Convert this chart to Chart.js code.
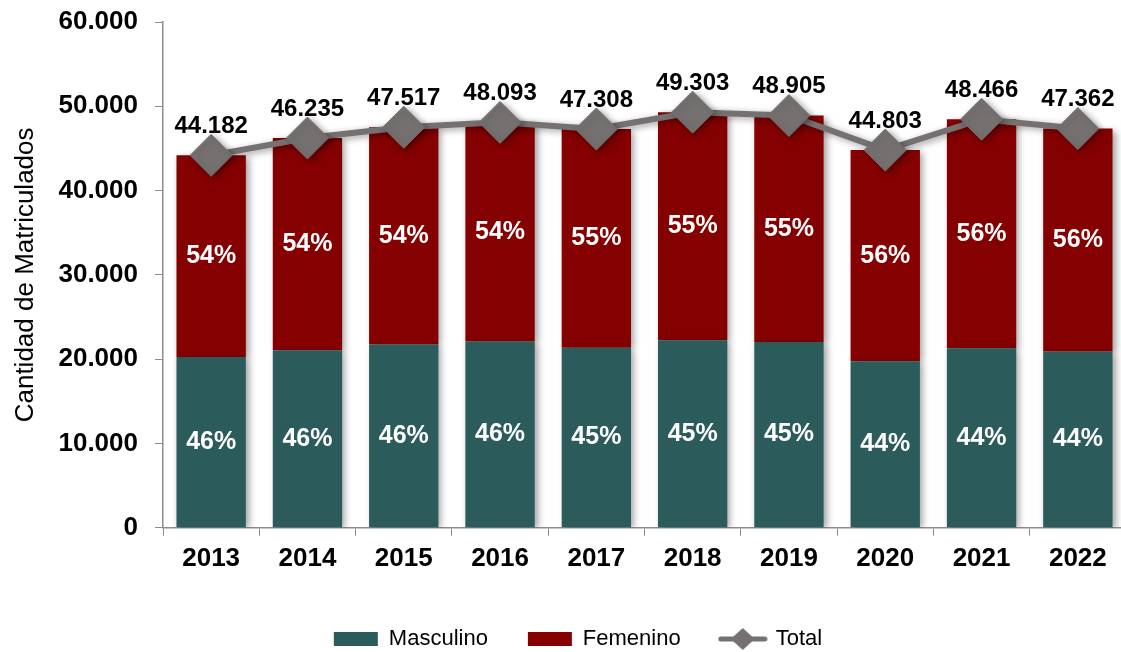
<!DOCTYPE html>
<html>
<head>
<meta charset="utf-8">
<script src="https://cdn.jsdelivr.net/npm/chart.js@4.4.1/dist/chart.umd.min.js"></script>
<style>
  html, body { margin: 0; padding: 0; background: #fff; overflow: hidden; }
  #contenedor { width: 1130px; height: 652px; }
</style>
</head>
<body>
<div id="contenedor"><canvas id="graficaMatriculados" width="1130" height="652"></canvas></div>
<script>
// datos
const anios = ['2013', '2014', '2015', '2016', '2017', '2018', '2019', '2020', '2021', '2022'];
const masculino = [20250, 21050, 21750, 22100, 21350, 22250, 22050, 19750, 21300, 20900];
const femenino = [23932, 25185, 25767, 25993, 25958, 27053, 26855, 25053, 27166, 26462];
const totales = [44182, 46235, 47517, 48093, 47308, 49303, 48905, 44803, 48466, 47362];
const pctMasculino = [46, 46, 46, 46, 45, 45, 45, 44, 44, 44];
const pctFemenino = [54, 54, 54, 54, 55, 55, 55, 56, 56, 56];

const colorMasc = '#2c5b5b';
const colorFem = '#850000';
const colorTotal = '#767171';
const fuente = "'Liberation Sans', Arial, sans-serif";

function formatoMiles(v) {
    return String(v).replace(/\B(?=(\d{3})+(?!\d))/g, '.');
}

// icono de la leyenda para Total (linea con rombo)
const iconoTotal = document.createElement('canvas');
iconoTotal.width = 50;
iconoTotal.height = 24;
(function() {
    const c = iconoTotal.getContext('2d');
    c.strokeStyle = colorTotal;
    c.lineWidth = 5;
    c.lineCap = 'round';
    c.beginPath();
    c.moveTo(3, 12);
    c.lineTo(47, 12);
    c.stroke();
    c.fillStyle = colorTotal;
    c.beginPath();
    c.moveTo(25, 1);
    c.lineTo(37, 12);
    c.lineTo(25, 23);
    c.lineTo(13, 12);
    c.closePath();
    c.fill();
})();

// sombras y etiquetas
const pluginEtiquetas = {
    id: 'etiquetas',
    beforeDatasetDraw(chart, args) {
        const ctx = chart.ctx;
        if (args.index === 0) {
            // totales, debajo de la linea
            const meta = chart.getDatasetMeta(0);
            ctx.save();
            ctx.font = 'bold 24px ' + fuente;
            ctx.fillStyle = '#000';
            ctx.textAlign = 'center';
            ctx.textBaseline = 'middle';
            meta.data.forEach((p, i) => {
                ctx.fillText(formatoMiles(totales[i]), p.x, p.y - 29);
            });
            ctx.restore();
        }
        ctx.save();
        ctx.shadowColor = 'rgba(0,0,0,0.38)';
        ctx.shadowBlur = 7;
        ctx.shadowOffsetX = 3;
        ctx.shadowOffsetY = 2;
    },
    afterDatasetDraw(chart) {
        chart.ctx.restore();
    },
    afterDatasetsDraw(chart) {
        const ctx = chart.ctx;
        ctx.save();
        ctx.font = 'bold 25px ' + fuente;
        ctx.fillStyle = '#fff';
        ctx.textAlign = 'center';
        ctx.textBaseline = 'middle';
        [[1, pctMasculino], [2, pctFemenino]].forEach(([idx, pct]) => {
            chart.getDatasetMeta(idx).data.forEach((b, i) => {
                ctx.fillText(pct[i] + '%', b.x, (b.y + b.base) / 2);
            });
        });
        ctx.restore();
    },
    afterLayout(chart) {
        // la leyenda esta algo corrida a la derecha y abajo
        chart.legend.left += 15;
        chart.legend.right += 15;
        chart.legend.top += 7;
        chart.legend.bottom += 7;
    }
};

const ctx = document.getElementById('graficaMatriculados').getContext('2d');
new Chart(ctx, {
    data: {
        labels: anios,
        datasets: [
            {
                type: 'line',
                label: 'Total',
                data: totales,
                stack: 'total',
                order: 0,
                borderColor: colorTotal,
                borderWidth: 6,
                tension: 0,
                pointStyle: 'rectRot',
                pointRadius: 21,
                pointHoverRadius: 21,
                pointBackgroundColor: colorTotal,
                pointBorderColor: colorTotal,
                pointBorderWidth: 1
            },
            {
                type: 'bar',
                label: 'Masculino',
                data: masculino,
                stack: 'sexo',
                order: 1,
                backgroundColor: colorMasc,
                categoryPercentage: 0.72,
                barPercentage: 1
            },
            {
                type: 'bar',
                label: 'Femenino',
                data: femenino,
                stack: 'sexo',
                order: 1,
                backgroundColor: colorFem,
                categoryPercentage: 0.72,
                barPercentage: 1
            }
        ]
    },
    options: {
        responsive: false,
        animation: false,
        devicePixelRatio: 1,
        layout: { autoPadding: false, padding: { top: 22, right: 4, bottom: -1, left: 0 } },
        plugins: {
            tooltip: { enabled: false },
            legend: {
                position: 'bottom',
                labels: {
                    usePointStyle: true,
                    pointStyleWidth: 44,
                    boxHeight: 14,
                    padding: 40,
                    color: '#000',
                    font: { family: fuente, size: 22 },
                    generateLabels() {
                        return [
                            { text: 'Masculino', fillStyle: colorMasc, strokeStyle: colorMasc, lineWidth: 0, pointStyle: 'rect', datasetIndex: 1, hidden: false },
                            { text: 'Femenino', fillStyle: colorFem, strokeStyle: colorFem, lineWidth: 0, pointStyle: 'rect', datasetIndex: 2, hidden: false },
                            { text: 'Total', fillStyle: colorTotal, strokeStyle: colorTotal, lineWidth: 0, pointStyle: iconoTotal, datasetIndex: 0, hidden: false }
                        ];
                    }
                }
            }
        },
        scales: {
            x: {
                stacked: true,
                offset: true,
                grid: { offset: true, drawOnChartArea: false, tickLength: 8, color: '#8c8c8c' },
                border: { color: '#8c8c8c', width: 1.5 },
                ticks: { color: '#000', padding: 7, font: { family: fuente, size: 26, weight: 'bold' } }
            },
            y: {
                stacked: true,
                min: 0,
                max: 60000,
                ticks: {
                    stepSize: 10000,
                    color: '#000',
                    padding: 17,
                    font: { family: fuente, size: 26, weight: 'bold', lineHeight: 0.3 },
                    callback: v => formatoMiles(v)
                },
                grid: { drawOnChartArea: false, tickLength: 8, color: '#8c8c8c' },
                border: { color: '#8c8c8c', width: 1.5 },
                title: {
                    display: true,
                    text: 'Cantidad de Matriculados',
                    color: '#000',
                    padding: { top: 10, bottom: 0 },
                    font: { family: fuente, size: 26 }
                },
                afterFit(scale) {
                    scale.width = 163;
                }
            }
        }
    },
    plugins: [pluginEtiquetas]
});
</script>
</body>
</html>
